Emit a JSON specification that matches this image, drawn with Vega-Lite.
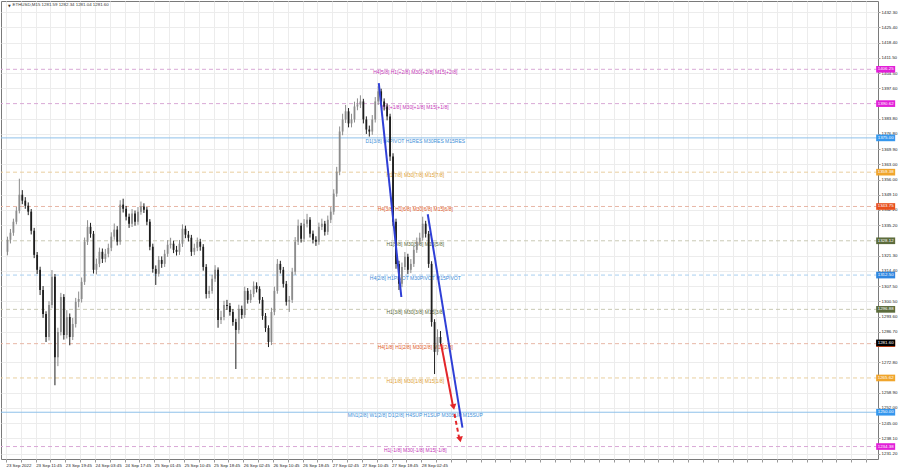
{
  "$schema": "https://vega.github.io/schema/vega-lite/v6.json",
  "width": 877,
  "height": 458,
  "autosize": {"type": "none"},
  "padding": {"left": 1, "top": 1, "right": 21, "bottom": 9},
  "background": "white",
  "config": {
    "view": {"stroke": "#7a7a7a", "strokeWidth": 1},
    "text": {"font": "Liberation Sans"},
    "axis": {"labelOverlap": false, "labelFlush": false, "labelBound": false}
  },
  "datasets": {
    "bars": [
      {"t":0,"o":1323.1,"h":1330.0,"l":1321.5,"c":1328.6},
      {"t":1,"o":1328.6,"h":1333.5,"l":1326.9,"c":1331.8},
      {"t":2,"o":1331.8,"h":1338.2,"l":1330.4,"c":1336.8},
      {"t":3,"o":1336.8,"h":1343.5,"l":1335.6,"c":1341.8},
      {"t":4,"o":1341.8,"h":1356.4,"l":1340.6,"c":1349.1},
      {"t":5,"o":1349.1,"h":1351.2,"l":1344.8,"c":1346.4},
      {"t":6,"o":1346.4,"h":1348.0,"l":1342.7,"c":1344.1},
      {"t":7,"o":1344.1,"h":1345.6,"l":1339.8,"c":1341.4},
      {"t":8,"o":1341.4,"h":1342.6,"l":1331.0,"c":1332.7},
      {"t":9,"o":1332.7,"h":1334.0,"l":1320.2,"c":1321.7},
      {"t":10,"o":1321.7,"h":1323.0,"l":1313.0,"c":1314.9},
      {"t":11,"o":1314.9,"h":1316.3,"l":1303.4,"c":1305.7},
      {"t":12,"o":1305.7,"h":1307.5,"l":1293.0,"c":1294.8},
      {"t":13,"o":1294.8,"h":1296.0,"l":1282.0,"c":1284.3},
      {"t":14,"o":1284.3,"h":1300.6,"l":1282.7,"c":1298.9},
      {"t":15,"o":1298.9,"h":1314.8,"l":1297.4,"c":1311.7},
      {"t":16,"o":1311.7,"h":1313.0,"l":1262.3,"c":1275.1},
      {"t":17,"o":1275.1,"h":1288.5,"l":1271.0,"c":1286.6},
      {"t":18,"o":1286.6,"h":1304.4,"l":1285.0,"c":1302.5},
      {"t":19,"o":1302.5,"h":1303.8,"l":1283.1,"c":1285.2},
      {"t":20,"o":1285.2,"h":1296.5,"l":1283.6,"c":1293.4},
      {"t":21,"o":1293.4,"h":1295.0,"l":1280.5,"c":1284.3},
      {"t":22,"o":1284.3,"h":1293.0,"l":1282.9,"c":1290.2},
      {"t":23,"o":1290.2,"h":1302.1,"l":1288.6,"c":1300.3},
      {"t":24,"o":1300.3,"h":1305.0,"l":1297.8,"c":1301.6},
      {"t":25,"o":1301.6,"h":1311.4,"l":1300.0,"c":1309.4},
      {"t":26,"o":1309.4,"h":1329.6,"l":1308.0,"c":1327.7},
      {"t":27,"o":1327.7,"h":1337.5,"l":1326.2,"c":1334.5},
      {"t":28,"o":1334.5,"h":1336.3,"l":1329.5,"c":1331.3},
      {"t":29,"o":1331.3,"h":1332.6,"l":1313.2,"c":1314.9},
      {"t":30,"o":1314.9,"h":1320.0,"l":1312.8,"c":1317.6},
      {"t":31,"o":1317.6,"h":1325.0,"l":1316.1,"c":1323.1},
      {"t":32,"o":1323.1,"h":1324.6,"l":1318.0,"c":1319.9},
      {"t":33,"o":1319.9,"h":1324.4,"l":1318.3,"c":1322.2},
      {"t":34,"o":1322.2,"h":1326.8,"l":1320.6,"c":1324.9},
      {"t":35,"o":1324.9,"h":1332.0,"l":1323.4,"c":1330.0},
      {"t":36,"o":1330.0,"h":1336.0,"l":1328.6,"c":1333.2},
      {"t":37,"o":1333.2,"h":1334.8,"l":1326.0,"c":1327.7},
      {"t":38,"o":1327.7,"h":1346.6,"l":1326.3,"c":1344.6},
      {"t":39,"o":1344.6,"h":1347.3,"l":1341.0,"c":1342.7},
      {"t":40,"o":1342.7,"h":1344.0,"l":1337.4,"c":1339.1},
      {"t":41,"o":1339.1,"h":1340.5,"l":1334.0,"c":1335.9},
      {"t":42,"o":1335.9,"h":1342.6,"l":1334.4,"c":1340.5},
      {"t":43,"o":1340.5,"h":1341.9,"l":1335.0,"c":1336.8},
      {"t":44,"o":1336.8,"h":1343.5,"l":1335.4,"c":1341.4},
      {"t":45,"o":1341.4,"h":1346.0,"l":1340.0,"c":1343.7},
      {"t":46,"o":1343.7,"h":1345.2,"l":1340.8,"c":1342.3},
      {"t":47,"o":1342.3,"h":1343.5,"l":1335.2,"c":1336.8},
      {"t":48,"o":1336.8,"h":1338.0,"l":1323.8,"c":1325.4},
      {"t":49,"o":1325.4,"h":1326.8,"l":1313.6,"c":1315.3},
      {"t":50,"o":1315.3,"h":1316.9,"l":1308.0,"c":1313.1},
      {"t":51,"o":1313.1,"h":1321.2,"l":1311.8,"c":1319.4},
      {"t":52,"o":1319.4,"h":1321.0,"l":1315.8,"c":1317.6},
      {"t":53,"o":1317.6,"h":1324.0,"l":1316.2,"c":1322.2},
      {"t":54,"o":1322.2,"h":1328.4,"l":1320.8,"c":1326.3},
      {"t":55,"o":1326.3,"h":1329.5,"l":1324.6,"c":1326.8},
      {"t":56,"o":1326.8,"h":1328.2,"l":1322.5,"c":1324.0},
      {"t":57,"o":1324.0,"h":1325.8,"l":1321.4,"c":1323.1},
      {"t":58,"o":1323.1,"h":1328.5,"l":1321.7,"c":1326.8},
      {"t":59,"o":1326.8,"h":1335.6,"l":1325.3,"c":1333.6},
      {"t":60,"o":1333.6,"h":1335.0,"l":1329.3,"c":1330.9},
      {"t":61,"o":1330.9,"h":1332.6,"l":1327.8,"c":1329.5},
      {"t":62,"o":1329.5,"h":1330.8,"l":1321.2,"c":1323.1},
      {"t":63,"o":1323.1,"h":1326.8,"l":1321.6,"c":1324.9},
      {"t":64,"o":1324.9,"h":1329.6,"l":1323.4,"c":1327.7},
      {"t":65,"o":1327.7,"h":1329.0,"l":1323.6,"c":1325.4},
      {"t":66,"o":1325.4,"h":1326.6,"l":1314.5,"c":1316.2},
      {"t":67,"o":1316.2,"h":1317.5,"l":1301.8,"c":1303.9},
      {"t":68,"o":1303.9,"h":1307.6,"l":1302.0,"c":1305.3},
      {"t":69,"o":1305.3,"h":1312.6,"l":1304.0,"c":1310.8},
      {"t":70,"o":1310.8,"h":1317.0,"l":1309.4,"c":1314.9},
      {"t":71,"o":1314.9,"h":1316.0,"l":1288.5,"c":1292.0},
      {"t":72,"o":1292.0,"h":1296.2,"l":1290.2,"c":1293.4},
      {"t":73,"o":1293.4,"h":1300.8,"l":1291.9,"c":1298.9},
      {"t":74,"o":1298.9,"h":1301.2,"l":1296.6,"c":1298.4},
      {"t":75,"o":1298.4,"h":1299.8,"l":1294.0,"c":1295.7},
      {"t":76,"o":1295.7,"h":1297.0,"l":1289.4,"c":1291.1},
      {"t":77,"o":1291.1,"h":1292.6,"l":1269.7,"c":1287.5},
      {"t":78,"o":1287.5,"h":1299.0,"l":1285.8,"c":1297.1},
      {"t":79,"o":1297.1,"h":1298.6,"l":1292.6,"c":1294.3},
      {"t":80,"o":1294.3,"h":1307.2,"l":1293.0,"c":1305.3},
      {"t":81,"o":1305.3,"h":1306.6,"l":1299.5,"c":1301.2},
      {"t":82,"o":1301.2,"h":1305.8,"l":1299.8,"c":1303.9},
      {"t":83,"o":1303.9,"h":1309.6,"l":1302.4,"c":1307.6},
      {"t":84,"o":1307.6,"h":1309.2,"l":1304.6,"c":1306.2},
      {"t":85,"o":1306.2,"h":1307.4,"l":1299.5,"c":1301.2},
      {"t":86,"o":1301.2,"h":1302.5,"l":1292.1,"c":1293.9},
      {"t":87,"o":1293.9,"h":1295.2,"l":1286.6,"c":1288.4},
      {"t":88,"o":1288.4,"h":1289.6,"l":1279.7,"c":1282.0},
      {"t":89,"o":1282.0,"h":1297.6,"l":1280.6,"c":1295.7},
      {"t":90,"o":1295.7,"h":1307.2,"l":1294.2,"c":1305.3},
      {"t":91,"o":1305.3,"h":1319.8,"l":1304.0,"c":1317.6},
      {"t":92,"o":1317.6,"h":1319.0,"l":1313.2,"c":1314.9},
      {"t":93,"o":1314.9,"h":1316.2,"l":1306.8,"c":1308.5},
      {"t":94,"o":1308.5,"h":1309.8,"l":1298.6,"c":1300.3},
      {"t":95,"o":1300.3,"h":1303.0,"l":1295.7,"c":1301.2},
      {"t":96,"o":1301.2,"h":1315.8,"l":1299.8,"c":1314.0},
      {"t":97,"o":1314.0,"h":1329.8,"l":1312.6,"c":1327.7},
      {"t":98,"o":1327.7,"h":1337.8,"l":1326.2,"c":1335.0},
      {"t":99,"o":1335.0,"h":1336.3,"l":1327.3,"c":1329.0},
      {"t":100,"o":1329.0,"h":1338.0,"l":1327.6,"c":1335.9},
      {"t":101,"o":1335.9,"h":1340.4,"l":1334.2,"c":1337.7},
      {"t":102,"o":1337.7,"h":1338.9,"l":1329.6,"c":1331.3},
      {"t":103,"o":1331.3,"h":1332.8,"l":1326.9,"c":1328.6},
      {"t":104,"o":1328.6,"h":1330.2,"l":1325.8,"c":1327.7},
      {"t":105,"o":1327.7,"h":1336.4,"l":1326.3,"c":1334.5},
      {"t":106,"o":1334.5,"h":1338.2,"l":1333.0,"c":1335.9},
      {"t":107,"o":1335.9,"h":1337.2,"l":1330.5,"c":1332.2},
      {"t":108,"o":1332.2,"h":1339.6,"l":1330.8,"c":1337.7},
      {"t":109,"o":1337.7,"h":1343.5,"l":1336.2,"c":1341.4},
      {"t":110,"o":1341.4,"h":1351.6,"l":1340.0,"c":1349.6},
      {"t":111,"o":1349.6,"h":1361.8,"l":1348.2,"c":1359.6},
      {"t":112,"o":1359.6,"h":1380.2,"l":1358.0,"c":1377.9},
      {"t":113,"o":1377.9,"h":1386.0,"l":1376.2,"c":1383.4},
      {"t":114,"o":1383.4,"h":1390.0,"l":1381.8,"c":1387.1},
      {"t":115,"o":1387.1,"h":1388.6,"l":1379.8,"c":1381.6},
      {"t":116,"o":1381.6,"h":1386.0,"l":1379.8,"c":1383.4},
      {"t":117,"o":1383.4,"h":1391.5,"l":1382.0,"c":1389.3},
      {"t":118,"o":1389.3,"h":1393.0,"l":1387.6,"c":1390.2},
      {"t":119,"o":1390.2,"h":1394.4,"l":1388.6,"c":1391.6},
      {"t":120,"o":1391.6,"h":1392.8,"l":1381.6,"c":1383.4},
      {"t":121,"o":1383.4,"h":1384.8,"l":1376.8,"c":1378.8},
      {"t":122,"o":1378.8,"h":1380.6,"l":1375.6,"c":1377.9},
      {"t":123,"o":1377.9,"h":1385.4,"l":1376.4,"c":1383.4},
      {"t":124,"o":1383.4,"h":1393.6,"l":1382.0,"c":1391.6},
      {"t":125,"o":1391.6,"h":1398.5,"l":1390.0,"c":1396.2},
      {"t":126,"o":1396.2,"h":1397.4,"l":1389.8,"c":1391.6},
      {"t":127,"o":1391.6,"h":1393.0,"l":1387.5,"c":1389.3},
      {"t":128,"o":1389.3,"h":1390.6,"l":1383.0,"c":1384.8},
      {"t":129,"o":1384.8,"h":1386.0,"l":1364.5,"c":1366.5},
      {"t":130,"o":1366.5,"h":1368.0,"l":1334.8,"c":1336.8},
      {"t":131,"o":1336.8,"h":1338.2,"l":1315.4,"c":1317.6},
      {"t":132,"o":1317.6,"h":1319.0,"l":1305.7,"c":1308.5},
      {"t":133,"o":1308.5,"h":1318.2,"l":1307.0,"c":1316.2},
      {"t":134,"o":1316.2,"h":1323.0,"l":1314.8,"c":1320.8},
      {"t":135,"o":1320.8,"h":1322.2,"l":1313.0,"c":1314.9},
      {"t":136,"o":1314.9,"h":1319.8,"l":1313.4,"c":1317.6},
      {"t":137,"o":1317.6,"h":1326.0,"l":1316.2,"c":1324.0},
      {"t":138,"o":1324.0,"h":1329.6,"l":1322.6,"c":1327.7},
      {"t":139,"o":1327.7,"h":1331.8,"l":1326.2,"c":1329.5},
      {"t":140,"o":1329.5,"h":1339.1,"l":1328.2,"c":1335.9},
      {"t":141,"o":1335.9,"h":1337.2,"l":1329.6,"c":1331.3},
      {"t":142,"o":1331.3,"h":1332.6,"l":1315.8,"c":1317.6},
      {"t":143,"o":1317.6,"h":1318.8,"l":1289.0,"c":1291.1},
      {"t":144,"o":1291.1,"h":1292.4,"l":1267.4,"c":1277.5},
      {"t":145,"o":1277.5,"h":1287.8,"l":1276.0,"c":1284.3},
      {"t":146,"o":1284.3,"h":1287.0,"l":1280.4,"c":1281.6}
    ],
    "levels": [
      {"p":1406.25,"g":"pink","label":"H4[5/8] H1[+2/8] M30[+2/8] M15[+2/8]"},
      {"p":1390.62,"g":"pink","label":"H1[+1/8] M30[+1/8] M15[+1/8]"},
      {"p":1375.00,"g":"blueSolid","label":"D1[3/8] H4PIVOT H1RES M30RES M15RES"},
      {"p":1359.38,"g":"orange","label":"H1[7/8] M30[7/8] M15[7/8]"},
      {"p":1343.75,"g":"red","label":"H4[3/8] H1[6/8] M30[6/8] M15[6/8]"},
      {"p":1328.12,"g":"olive","label":"H1[5/8] M30[5/8] M15[5/8]"},
      {"p":1312.50,"g":"blueDash","label":"H4[2/8] H1PIVOT M30PIVOT M15PIVOT"},
      {"p":1296.88,"g":"olive","label":"H1[3/8] M30[3/8] M15[3/8]"},
      {"p":1281.25,"g":"red","label":"H4[1/8] H1[2/8] M30[2/8] M15[2/8]"},
      {"p":1265.62,"g":"orange","label":"H1[1/8] M30[1/8] M15[1/8]"},
      {"p":1250.00,"g":"blueSolid","label":"MN1[2/8] W1[2/8] D1[2/8] H4SUP H1SUP M30SUP M15SUP"},
      {"p":1234.38,"g":"pink","label":"H1[-1/8] M30[-1/8] M15[-1/8]"}
    ],
    "trend": [
      {"id":"blue1","t":125.2,"p":1400.0},
      {"id":"blue1","t":132.8,"p":1302.5},
      {"id":"blue2","t":141.7,"p":1340.2},
      {"id":"blue2","t":153.4,"p":1243.0},
      {"id":"red1","t":146.2,"p":1281.1},
      {"id":"red1","t":150.2,"p":1252.9},
      {"id":"red2","t":150.7,"p":1249.2},
      {"id":"red2","t":152.5,"p":1236.9}
    ],
    "heads": [
      {"t":150.4,"p":1252.4},
      {"t":152.6,"p":1237.6}
    ]
  },
  "layer": [
    {
      "data": {"name": "levels"},
      "mark": {"type": "rule", "strokeWidth": 1},
      "encoding": {
        "y": {
          "field": "p", "type": "quantitative",
          "scale": {"domain": [1228.7, 1437.37], "nice": false, "zero": false},
          "axis": {
            "orient": "right",
            "values": [1432.3,1425.4,1418.4,1411.5,1404.5,1397.6,1383.8,1376.8,1369.9,1363.0,1356.0,1349.1,1342.2,1335.2,1321.3,1314.4,1307.5,1300.5,1293.6,1286.7,1272.8,1258.9,1252.0,1245.0,1238.1,1231.2],
            "tickCount": 200,
            "format": ".2f", "grid": true, "gridColor": "#ececec", "gridWidth": 1,
            "domain": false, "ticks": true, "tickSize": 2, "tickColor": "#999999",
            "labelPadding": 1, "labelFont": "Liberation Sans", "labelFontSize": 4.4,
            "labelColor": "#222222", "labelOverlap": false, "labelBaseline": "middle",
            "labelFlush": false, "labelBound": false, "title": null
          }
        },
        "color": {
          "field": "g", "type": "nominal", "legend": null,
          "scale": {"domain": ["pink","blueSolid","orange","red","olive","blueDash"],
                    "range": ["#d9a9d6","#8fc1ea","#e9cf9f","#e8b7a6","#c9c9b4","#a9cff0"]}
        },
        "strokeDash": {
          "field": "g", "type": "nominal", "legend": null,
          "scale": {"domain": ["pink","blueSolid","orange","red","olive","blueDash"],
                    "range": [[4,3],[1,0],[4,3],[4,3],[4,3],[4,3]]}
        }
      }
    },
    {
      "data": {"name": "levels"},
      "mark": {"type": "text", "align": "center", "baseline": "top", "dy": 1, "fontSize": 5, "font": "Liberation Sans"},
      "encoding": {
        "x": {"datum": 137.5, "type": "quantitative"},
        "y": {"field": "p", "type": "quantitative"},
        "text": {"field": "label"},
        "color": {
          "field": "g", "type": "nominal", "legend": null,
          "scale": {"domain": ["pink","blueSolid","orange","red","olive","blueDash"],
                    "range": ["#c535b8","#3d8fd8","#e0a030","#e05a28","#5a6a38","#3a8ad8"]}
        }
      }
    },
    {
      "data": {"name": "bars"},
      "mark": {"type": "rule", "strokeWidth": 1},
      "encoding": {
        "x": {
          "field": "t", "type": "quantitative",
          "scale": {"domain": [-0.5, 291.83], "nice": false, "zero": false},
          "axis": {
            "values": [-0.5,4.5,9.5,14.5,19.5,24.5,29.5,34.5,39.5,44.5,49.5,54.5,59.5,64.5,69.5,74.5,79.5,84.5,89.5,94.5,99.5,104.5,109.5,114.5,119.5,124.5,129.5,134.5,139.5,144.5,149.5,154.5,159.5,164.5,169.5,174.5,179.5,184.5,189.5,194.5,199.5,204.5,209.5,214.5,219.5,224.5,229.5,234.5,239.5,244.5,249.5,254.5,259.5,264.5,269.5,274.5,279.5,284.5,289.5],
            "tickCount": 200,
            "labelExpr": "((datum.value + 0.5) % 10 == 0 && datum.value < 145) ? ['23 Sep 2022','23 Sep 11:45','23 Sep 19:45','24 Sep 03:45','24 Sep 17:45','25 Sep 01:45','25 Sep 10:45','25 Sep 18:45','26 Sep 02:45','26 Sep 10:45','26 Sep 18:45','27 Sep 02:45','27 Sep 10:45','27 Sep 18:45','28 Sep 02:45'][(datum.value + 0.5) / 10] : ''",
            "grid": true, "gridColor": "#ececec", "gridWidth": 1,
            "domain": false, "ticks": true, "tickSize": 3, "tickColor": "#999999",
            "labelAlign": "left", "labelPadding": 1, "labelFont": "Liberation Sans",
            "labelFontSize": 4.4, "labelColor": "#222222", "labelOverlap": false,
            "labelFlush": false, "labelBound": false, "title": null
          }
        },
        "y": {"field": "l", "type": "quantitative"},
        "y2": {"field": "h"},
        "color": {"condition": {"test": "datum.c >= datum.o", "value": "#8c8c8c"}, "value": "#1e1e1e"}
      }
    },
    {
      "data": {"name": "bars"},
      "mark": {"type": "bar", "width": 1.8},
      "encoding": {
        "x": {"field": "t", "type": "quantitative"},
        "y": {"field": "o", "type": "quantitative"},
        "y2": {"field": "c"},
        "color": {"condition": {"test": "datum.c >= datum.o", "value": "#8c8c8c"}, "value": "#1e1e1e"}
      }
    },
    {
      "data": {"name": "trend"},
      "transform": [{"filter": "datum.id == 'blue1' || datum.id == 'blue2'"}],
      "mark": {"type": "line", "strokeWidth": 2, "color": "#2f3fd6"},
      "encoding": {
        "x": {"field": "t", "type": "quantitative"},
        "y": {"field": "p", "type": "quantitative"},
        "detail": {"field": "id"}
      }
    },
    {
      "data": {"name": "trend"},
      "transform": [{"filter": "datum.id == 'red1'"}],
      "mark": {"type": "line", "strokeWidth": 2, "color": "#e3262a"},
      "encoding": {
        "x": {"field": "t", "type": "quantitative"},
        "y": {"field": "p", "type": "quantitative"}
      }
    },
    {
      "data": {"name": "trend"},
      "transform": [{"filter": "datum.id == 'red2'"}],
      "mark": {"type": "line", "strokeWidth": 2, "color": "#e3262a", "strokeDash": [4, 3]},
      "encoding": {
        "x": {"field": "t", "type": "quantitative"},
        "y": {"field": "p", "type": "quantitative"}
      }
    },
    {
      "data": {"name": "heads"},
      "mark": {"type": "point", "shape": "triangle-down", "filled": true, "size": 45, "color": "#e3262a", "opacity": 1, "angle": -11},
      "encoding": {
        "x": {"field": "t", "type": "quantitative"},
        "y": {"field": "p", "type": "quantitative"}
      }
    },
    {
      "data": {"name": "levels"},
      "mark": {"type": "point", "shape": "M-1,-0.35L1,-0.35L1,0.35L-1,0.35Z", "filled": true, "size": 361, "opacity": 1, "strokeWidth": 0, "clip": false},
      "encoding": {
        "x": {"datum": 296.1, "type": "quantitative"},
        "y": {"field": "p", "type": "quantitative"},
        "color": {
          "field": "g", "type": "nominal", "legend": null,
          "scale": {"domain": ["pink","blueSolid","orange","red","olive","blueDash"],
                    "range": ["#e21fd8","#3597ee","#f0a52c","#e8501e","#5c6c3c","#2f86e0"]}
        }
      }
    },
    {
      "data": {"name": "levels"},
      "mark": {"type": "text", "align": "center", "baseline": "middle", "fontSize": 4.4, "font": "Liberation Sans", "color": "white", "clip": false},
      "encoding": {
        "x": {"datum": 296.1, "type": "quantitative"},
        "y": {"field": "p", "type": "quantitative"},
        "text": {"field": "p", "type": "quantitative", "format": ".2f"}
      }
    },
    {
      "data": {"values": [{"p": 1281.6}]},
      "mark": {"type": "point", "shape": "M-1,-0.35L1,-0.35L1,0.35L-1,0.35Z", "filled": true, "size": 361, "opacity": 1, "strokeWidth": 0, "color": "#000000", "clip": false},
      "encoding": {
        "x": {"datum": 296.1, "type": "quantitative"},
        "y": {"field": "p", "type": "quantitative"}
      }
    },
    {
      "data": {"values": [{"p": 1281.6}]},
      "mark": {"type": "text", "align": "center", "baseline": "middle", "fontSize": 4.4, "font": "Liberation Sans", "color": "white", "clip": false},
      "encoding": {
        "x": {"datum": 296.1, "type": "quantitative"},
        "y": {"field": "p", "type": "quantitative"},
        "text": {"field": "p", "type": "quantitative", "format": ".2f"}
      }
    },
    {
      "data": {"values": [{"p": 1437.0, "s": "ETHUSD,M15  1281.59 1282.34 1281.04 1281.60"}]},
      "mark": {"type": "text", "align": "left", "baseline": "top", "dy": 1.5, "fontSize": 4.4, "font": "Liberation Sans", "color": "#333333"},
      "encoding": {
        "x": {"datum": 1.7, "type": "quantitative"},
        "y": {"field": "p", "type": "quantitative"},
        "text": {"field": "s"}
      }
    },
    {
      "data": {"values": [{"p": 1437.0, "s": "▼"}]},
      "mark": {"type": "text", "align": "left", "baseline": "top", "dy": 2, "fontSize": 3.5, "font": "DejaVu Sans", "color": "#333333"},
      "encoding": {
        "x": {"datum": 0.2, "type": "quantitative"},
        "y": {"field": "p", "type": "quantitative"},
        "text": {"field": "s"}
      }
    }
  ],
  "resolve": {"scale": {"color": "independent", "strokeDash": "independent"}}
}
